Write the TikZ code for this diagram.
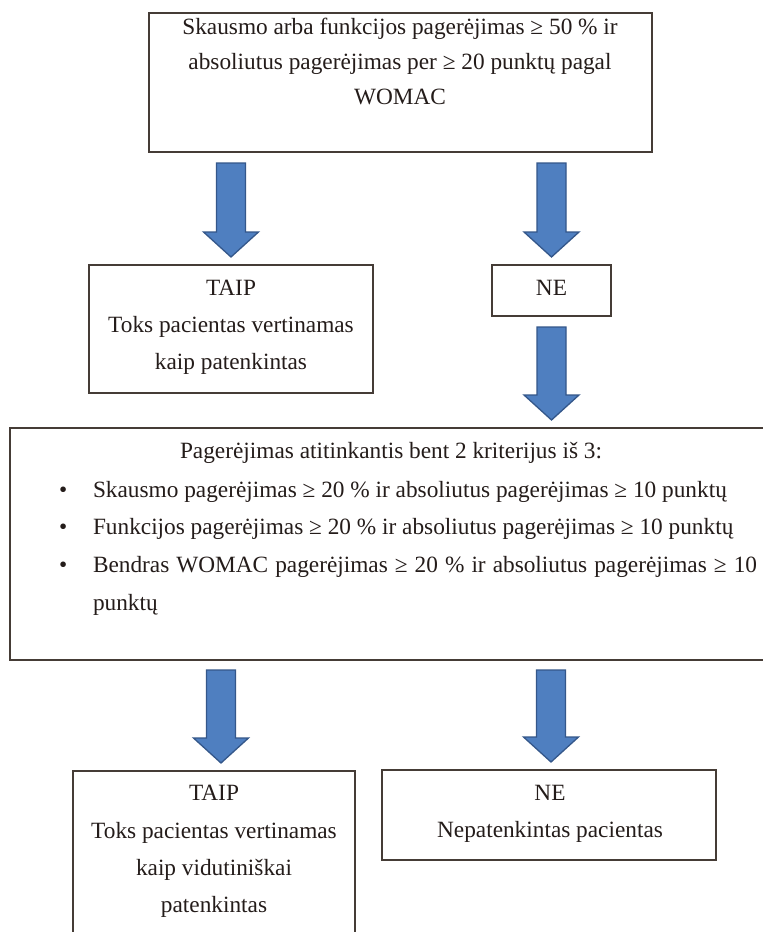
\documentclass[tikz,border=0pt]{standalone}
\usepackage{fontspec}
\setmainfont{Liberation Serif}
\usetikzlibrary{calc}
\definecolor{boxline}{HTML}{453C36}
\definecolor{txtc}{HTML}{241C1A}
\definecolor{arrfill}{HTML}{4F7FC0}
\definecolor{arrline}{HTML}{34578A}
\begin{document}
\begin{tikzpicture}[x=1pt,y=-1pt,
  box/.style={draw=boxline,line width=1.8pt,inner sep=0pt,outer sep=0pt,anchor=north west},
  lbl/.style={inner sep=0pt,outer sep=0pt,text=txtc,font=\fontsize{23.3}{28}\selectfont,anchor=base},
  lblw/.style={lbl,anchor=base west},
  barrow/.style={draw=arrline,line width=1.3pt,fill=arrfill,line join=miter,
    to path={let \p1=(\tikztostart),\p2=(\tikztotarget) in
      (\x1-14.5pt,\y1) -- (\x1+14.5pt,\y1) -- (\x1+14.5pt,\y2+25pt) -- (\x1+27.5pt,\y2+25pt)
      -- (\x1,\y2) -- (\x1-27.5pt,\y2+25pt) -- (\x1-14.5pt,\y2+25pt) -- cycle}}]
\fill[white] (0,0) rectangle (763,932);
\useasboundingbox (0,0) rectangle (763,932);

% boxes
\node[box,minimum width=503pt,minimum height=139pt] (top) at (149,13) {};
\node[box,minimum width=284pt,minimum height=128pt] (taip1) at (89,265) {};
\node[box,minimum width=119pt,minimum height=51pt] (ne1) at (492,265) {};
\node[box,minimum width=756pt,minimum height=232pt] (crit) at (10,428) {};
\node[box,minimum width=282pt,minimum height=172pt] (taip2) at (73,771) {};
\node[box,minimum width=334pt,minimum height=90pt] (ne2) at (382,770) {};

% arrows
\draw[barrow] ($(top.south -| taip1.north)+(0,11)$) to ($(taip1.north)+(0,-8)$);
\draw[barrow] ($(top.south -| ne1.north)+(0,11)$) to ($(ne1.north)+(0,-8)$);
\draw[barrow] ($(ne1.south)+(0,11)$) to ($(crit.north -| ne1.south)+(0,-8)$);
\draw[barrow] ($(crit.south -| taip2.north)+(7,10)$) to ($(taip2.north)+(7,-8)$);
\draw[barrow] ($(crit.south -| ne2.north)+(2,10)$) to ($(ne2.north)+(2,-8)$);

% top box text
\node[lbl] (t1) at (400,34) {Skausmo arba funkcijos pagerėjimas ≥ 50 \% ir};
\node[lbl] (t2) at (400,69) {absoliutus pagerėjimas per ≥ 20 punktų pagal};
\node[lbl] (t3) at (400,104) {WOMAC};

% first TAIP
\node[lbl] (y1a) at (231,295) {TAIP};
\node[lbl] (y1b) at (231,332) {Toks pacientas vertinamas};
\node[lbl] (y1c) at (231,369) {kaip patenkintas};

% first NE
\node[lbl] (n1a) at (551.5,295) {NE};

% criteria
\node[lbl] (c0) at (391,458) {Pagerėjimas atitinkantis bent 2 kriterijus iš 3:};
\node[lblw] (d1) at (59,497) {•};
\node[lblw] (c1) at (93,497) {Skausmo pagerėjimas ≥ 20 \% ir absoliutus pagerėjimas ≥ 10 punktų};
\node[lblw] (d2) at (59,534) {•};
\node[lblw] (c2) at (93,534) {Funkcijos pagerėjimas ≥ 20 \% ir absoliutus pagerėjimas ≥ 10 punktų};
\node[lblw] (d3) at (59,572) {•};
\node[lblw] (c3) at (93,572) {\makebox[664pt][s]{Bendras WOMAC pagerėjimas ≥ 20 \% ir absoliutus pagerėjimas ≥ 10}};
\node[lblw] (c4) at (93,610) {punktų};

% second TAIP
\node[lbl] (y2a) at (214,800) {TAIP};
\node[lbl] (y2b) at (214,838) {Toks pacientas vertinamas};
\node[lbl] (y2c) at (214,875) {kaip vidutiniškai};
\node[lbl] (y2d) at (214,912) {patenkintas};

% second NE
\node[lbl] (n2a) at (550,800) {NE};
\node[lbl] (n2b) at (550,837) {Nepatenkintas pacientas};
\end{tikzpicture}
\end{document}
